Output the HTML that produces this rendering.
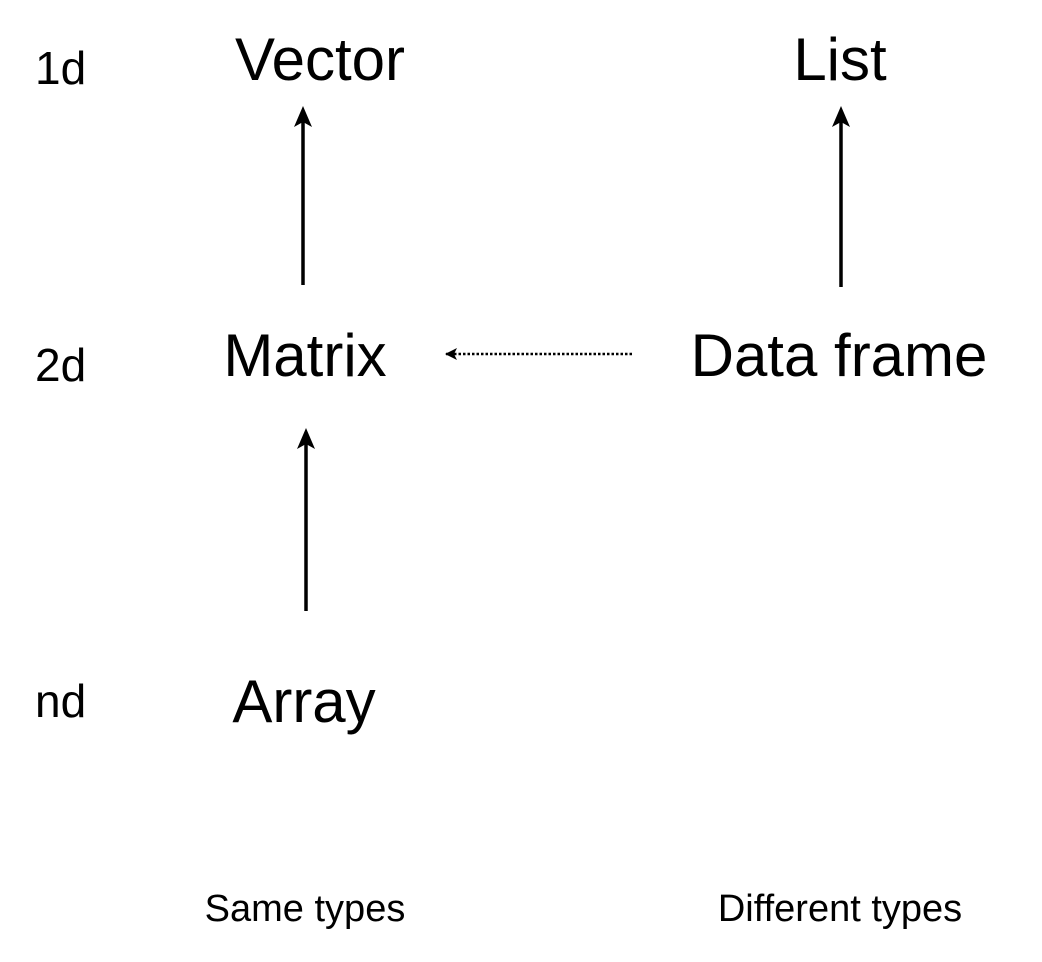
<!DOCTYPE html>
<html><head><meta charset="utf-8"><style>html,body{margin:0;padding:0;background:#fff}svg{display:block}</style></head>
<body>
<svg width="1042" height="962" viewBox="0 0 1042 962" xmlns="http://www.w3.org/2000/svg" font-family="Liberation Sans, sans-serif" fill="#000">
<defs>
<marker id="a" markerWidth="12" markerHeight="12" refX="11" refY="6" orient="auto" markerUnits="userSpaceOnUse"><path d="M0,0 L12,6 L0,12 L3,6 z"/></marker>
<marker id="b" markerWidth="22" markerHeight="20" refX="11" refY="10" orient="auto" markerUnits="userSpaceOnUse"><path d="M0,1 L21,10 L0,19 L5,10 z"/></marker>
</defs>
<g font-size="46">
<text x="35" y="84">1d</text>
<text x="35" y="381">2d</text>
<text x="35" y="717">nd</text>
</g>
<g font-size="60" text-anchor="middle">
<text x="320" y="80">Vector</text>
<text x="840" y="80">List</text>
<text x="305" y="376">Matrix</text>
<text x="839" y="376">Data frame</text>
<text x="304" y="722">Array</text>
</g>
<g font-size="38" text-anchor="middle">
<text x="305" y="921">Same types</text>
<text x="840" y="921">Different types</text>
</g>
<g stroke="#000" stroke-width="3.5">
<line x1="303" y1="285" x2="303" y2="116" marker-end="url(#b)"/>
<line x1="841" y1="287" x2="841" y2="116" marker-end="url(#b)"/>
<line x1="306" y1="611" x2="306" y2="438" marker-end="url(#b)"/>
</g>
<line x1="632" y1="354" x2="446" y2="354" stroke="#000" stroke-width="2.5" stroke-dasharray="2.5,2" marker-end="url(#a)"/>
</svg>
</body></html>
